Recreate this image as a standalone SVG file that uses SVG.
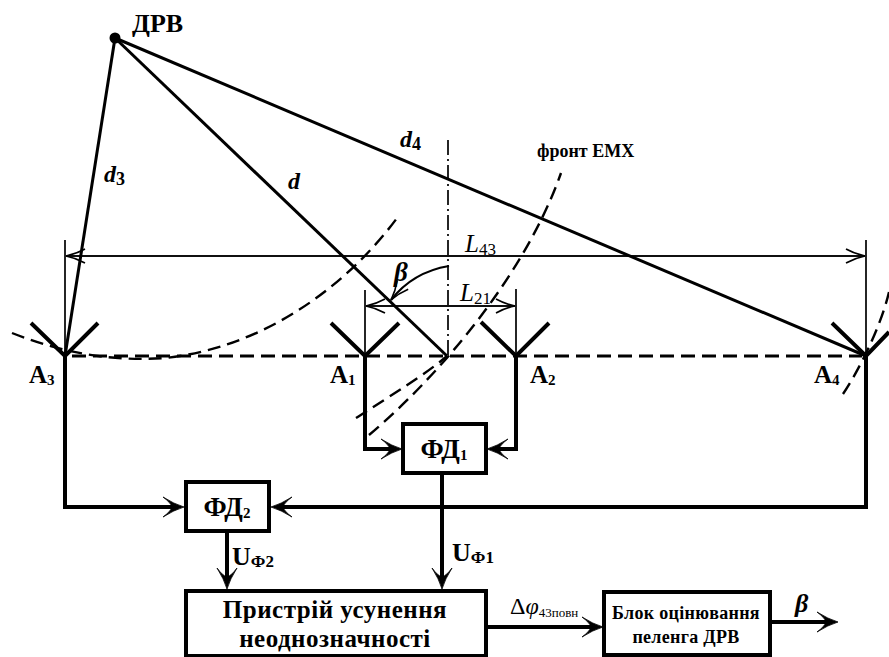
<svg xmlns="http://www.w3.org/2000/svg" width="889" height="657" viewBox="0 0 889 657">
<style>
.l{fill:none;stroke:#000}
.w4{stroke-width:4}
.w3{stroke-width:3}
.w2{stroke-width:1.7}
.d{stroke-dasharray:13 7;stroke-width:2.4}
.base{stroke-dasharray:14 7;stroke-width:3}
.box{fill:#fff;stroke:#000;stroke-width:4}
text{font-family:"Liberation Serif","Times New Roman",serif;fill:#000}
.b{font-weight:700}
.i{font-style:italic}
</style>
<defs>
<marker id="a" markerUnits="userSpaceOnUse" markerWidth="30" markerHeight="26" refX="14" refY="13" orient="auto"><path d="M3 3 Q14 10 24 13 Q14 16 3 23 Q11 17 12 13 Q11 9 3 3Z" fill="#000" stroke="#000" stroke-width=".8"/></marker>
<marker id="o" markerUnits="userSpaceOnUse" markerWidth="24" markerHeight="18" refX="22" refY="9" orient="auto"><path d="M3 2 Q12 7 22 9 Q12 11 3 16" fill="none" stroke="#000" stroke-width="1.6"/></marker>
</defs>
<g id="connectors">
<path class="l w3" d="M115 38L65 356"/>
<path class="l w3" d="M115 38L447 356"/>
<path class="l w3" d="M115 38L866 356"/>
<path class="l base" d="M72 356H862"/>
<path class="l" stroke-width="1.7" stroke-dasharray="15 4 2 4" d="M448 140V356"/>
<path class="l d" d="M12 333C60 352 110 362 165 358C260 348 345 290 400 214"/>
<path class="l d" d="M356 418C390 396 425 375 447 356"/>
<path class="l d" d="M369 435C440 375 525 275 561 173"/>
<path class="l d" d="M843 394C856 375 880 330 889 292"/>
<path class="l w2" d="M65 240V356M866 240V356M365 290V356M516 289V356"/>
<path class="l w2" marker-end="url(#o)" d="M865 256H66"/>
<path class="l w2" marker-end="url(#o)" d="M66 256H865"/>
<path class="l w2" marker-end="url(#o)" d="M515 306H366"/>
<path class="l w2" marker-end="url(#o)" d="M366 306H515"/>
<path class="l" stroke-width="2.2" marker-end="url(#o)" d="M449 266C425 270 405 282 391 300"/>
<path class="l w4" marker-end="url(#a)" d="M365 356V449H392"/>
<path class="l w4" marker-end="url(#a)" d="M516 356V449H497"/>
<path class="l w4" marker-end="url(#a)" d="M65 356V507H174"/>
<path class="l w4" marker-end="url(#a)" d="M866 356V507H281"/>
<path class="l w4" marker-end="url(#a)" d="M442 474V579"/>
<path class="l w4" marker-end="url(#a)" d="M227 532V579"/>
<path class="l w4" marker-end="url(#a)" d="M486 627H593"/>
<path class="l w4" marker-end="url(#a)" d="M770 622H828"/>
</g>
<g id="drv"><circle cx="115" cy="38" r="5.500" fill="#000"/><text class="b" x="132" y="32" font-size="26">ДРВ</text></g>
<g id="antenna-a3"><path class="l w4" d="M31 323L65 356L98 323"/><text class="b" x="29" y="383" font-size="25">А<tspan font-size="15" dy="2">3</tspan></text></g>
<g id="antenna-a1"><path class="l w4" d="M331 323L365 356L399 323"/><text class="b" x="330" y="383" font-size="25">А<tspan font-size="15" dy="2">1</tspan></text></g>
<g id="antenna-a2"><path class="l w4" d="M481 322L516 356L549 323"/><text class="b" x="530" y="383" font-size="25">А<tspan font-size="15" dy="2">2</tspan></text></g>
<g id="antenna-a4"><path class="l w4" d="M832 323L866 356L889 332"/><text class="b" x="814" y="383" font-size="25">А<tspan font-size="15" dy="2">4</tspan></text></g>
<g id="fd1"><rect class="box" x="403" y="424" width="83" height="49"/><text class="b" x="444" y="458" font-size="27" text-anchor="middle">ФД<tspan font-size="15" dy="2">1</tspan></text></g>
<g id="fd2"><rect class="box" x="186" y="482" width="83" height="49"/><text class="b" x="227" y="516" font-size="27" text-anchor="middle">ФД<tspan font-size="15" dy="2">2</tspan></text></g>
<g id="resolver"><rect class="box" x="186" y="591" width="300" height="65"/><text class="b" x="335" y="618" font-size="25" text-anchor="middle" letter-spacing=".5">Пристрій усунення</text><text class="b" x="335" y="647" font-size="25" text-anchor="middle" letter-spacing=".5">неоднозначності</text></g>
<g id="estimator"><rect class="box" x="604" y="592" width="166" height="63"/><text class="b" x="686" y="619" font-size="18" text-anchor="middle" letter-spacing=".3">Блок оцінювання</text><text class="b" x="686" y="643" font-size="18" text-anchor="middle" letter-spacing=".3">пеленга ДРВ</text></g>
<g id="labels">
<text class="b i" x="104" y="182" font-size="24">d<tspan font-size="18" dy="3" font-style="normal">3</tspan></text>
<text class="b i" x="288" y="189" font-size="24">d</text>
<text class="b i" x="400" y="147" font-size="24">d<tspan font-size="18" dy="3" font-style="normal">4</tspan></text>
<text class="b" x="537" y="157" font-size="18">фронт ЕМХ</text>
<text class="i" x="465" y="252" font-size="25">L<tspan font-size="17" dy="3" font-style="normal">43</tspan></text>
<text class="i" x="460" y="301" font-size="25">L<tspan font-size="17" dy="3" font-style="normal">21</tspan></text>
<text class="b i" x="394" y="281" font-size="27">β</text>
<text class="b" x="232" y="565" font-size="26">U<tspan font-size="17" dy="2">Ф2</tspan></text>
<text class="b" x="452" y="561" font-size="26">U<tspan font-size="17" dy="2">Ф1</tspan></text>
<text x="510" y="614" font-size="24">Δ<tspan class="i">φ</tspan><tspan font-size="13" dy="3">43повн</tspan></text>
<text class="b i" x="795" y="612" font-size="26">β</text>
</g>
</svg>
